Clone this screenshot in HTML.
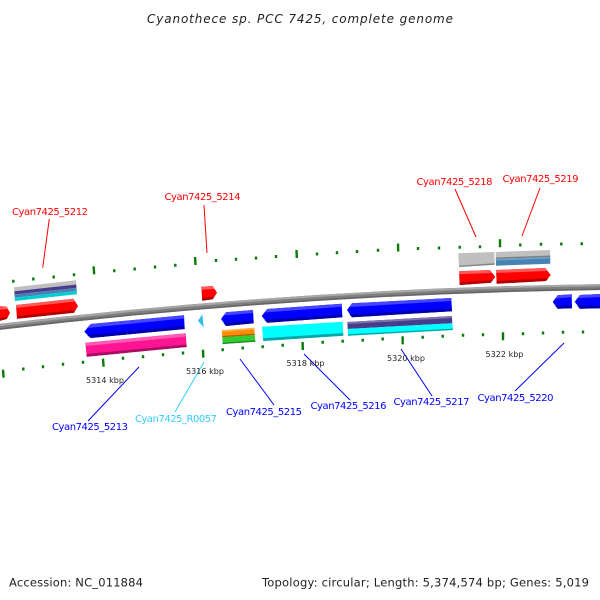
<!DOCTYPE html>
<html><head><meta charset="utf-8"><title>Cyanothece sp. PCC 7425</title>
<style>html,body{margin:0;padding:0;background:#fff}svg{display:block}text{font-family:"DejaVu Sans","Liberation Sans",sans-serif}</style></head>
<body>
<svg xmlns="http://www.w3.org/2000/svg" width="600" height="600" viewBox="0 0 600 600">
<rect width="600" height="600" fill="#fff"/>
<!-- backbone -->
<path d="M-5 327.4Q300 291 605 287" fill="none" stroke="#808080" stroke-width="6"/>
<path d="M-5 325.6Q300 289 605 285" fill="none" stroke="#a8a8a8" stroke-width="2"/>
<path d="M-5 329.6Q300 293 605 289" fill="none" stroke="#666" stroke-width="1.5"/>
<!-- upper ticks -->
<g stroke="#0a7a0a" stroke-width="2.4" fill="none">
<path d="M13.3 279.8v3M33.3 277.5v3M53.7 275.5v3M74 273.2v3M114.3 269.2v3M134.7 267.5v3M155 265.5v3M175.3 263.8v3M216 259v3M236 257.7v3M256 256.5v3M276 255v3M317 252.5v3M337 251.2v3M357 250v3M378 248.8v3M418 247v3M439 246.5v3M459.7 245.8v3M480 245.2v3M520.3 243.5v3M541 242.8v3M561.3 242.5v3M581.7 242.2v3"/>
<path d="M93.6 266.3l.6 8M195 257l.5 8M296.5 250l.3 8M398 243.5l.2 8M500 239.3v8"/>
</g>
<!-- lower ticks -->
<g stroke="#0a7a0a" stroke-width="2.4" fill="none">
<path d="M23.3 367.5v3M43 365.2v3M63 362.8v3M83 360.8v3M123 356.8v3M143 355.2v3M163 353.2v3M183 351.5v3M222.7 348.2v3M242.7 346.5v3M262.7 345.2v3M282.7 343.8v3M322.7 340.8v3M342.7 339.8v3M362.7 338.8v3M382.7 337.5v3M422.7 335.8v3M442.7 334.8v3M463 333.8v3M483 333.2v3M523 332.2v3M543 331.5v3M563 330.8v3M583 330.5v3"/>
<path d="M3 369.7l.6 8M103 358.7l.6 8M203 349.7l.3 8M302.6 342l.2 8M402.6 336.3l.1 8M503 332.3v8"/>
</g>
<!-- red genes -->
<g>
<polygon points="0,306 6.7,306.7 10,313 6.7,319 0,320.7" fill="#f00"/>
<polygon points="0,306 6.7,306.7 8,309 0,309.5" fill="#ff5a5a"/>
<polygon points="0,318 8,316.5 6.7,319 0,320.7" fill="#b00000"/>
<polygon points="16,305 73.3,298.7 78,306 74,312.7 17,318.7" fill="#f00"/>
<polygon points="16,305 73.3,298.7 75,301.5 16,308" fill="#ff5a5a"/>
<polygon points="17,316 75.5,310 74,312.7 17,318.7" fill="#b00000"/>
<polygon points="201.3,286.7 212.7,286 217,292.7 212.7,299.3 202.3,300.7" fill="#f00"/>
<polygon points="201.3,286.7 212.7,286 214.5,289 201.5,289.7" fill="#ff5a5a"/>
<polygon points="202,298 214.5,296.5 212.7,299.3 202.3,300.7" fill="#b00000"/>
<polygon points="459,271.3 490,270 495.3,277 490.7,282.7 459.7,285" fill="#f00"/>
<polygon points="459,271.3 490,270 492.2,273 459,274.3" fill="#ff5a5a"/>
<polygon points="459.6,282.3 493,280 490.7,282.7 459.7,285" fill="#b00000"/>
<polygon points="496,270 545.3,268 550.7,275 546,281 496.7,283.7" fill="#f00"/>
<polygon points="496,270 545.3,268 547.6,271 496,273" fill="#ff5a5a"/>
<polygon points="496.6,281 548.3,278.3 546,281 496.7,283.7" fill="#b00000"/>
</g>
<!-- blue genes -->
<g>
<polygon points="84.3,331.7 90.7,324 184,315.3 184.7,329 90.7,338" fill="#00f"/>
<polygon points="87,328 90.7,324 184,315.3 184.2,318.5" fill="#4646ff"/>
<polygon points="87,335 184.5,326 184.7,329 90.7,338" fill="#0000aa"/>
<polygon points="198,321 202.3,314.3 203.7,327.3" fill="#33bbee"/>
<polygon points="221,319 226,312.3 253,310 253.7,323.3 226,326" fill="#00f"/>
<polygon points="223.5,315.5 226,312.3 253,310 253.1,313" fill="#4646ff"/>
<polygon points="223.5,323 253.5,320.5 253.7,323.3 226,326" fill="#0000aa"/>
<polygon points="261.7,316 267.3,309 341.7,303.7 342.3,317.3 267.3,322.7" fill="#00f"/>
<polygon points="264.3,312.5 267.3,309 341.7,303.7 341.9,306.8" fill="#4646ff"/>
<polygon points="264.5,320 342.2,314.5 342.3,317.3 267.3,322.7" fill="#0000aa"/>
<polygon points="347,310 352,303.3 451.3,298 452,311.3 352,317.3" fill="#00f"/>
<polygon points="349.5,307 352,303.3 451.3,298 451.5,301" fill="#4646ff"/>
<polygon points="349.5,314.5 451.9,308.5 452,311.3 352,317.3" fill="#0000aa"/>
<polygon points="552.7,302 557.7,295.3 571.7,294.3 572,308.3 557.7,308.7" fill="#00f"/>
<polygon points="555.2,298.5 557.7,295.3 571.7,294.3 571.8,297.3" fill="#4646ff"/>
<polygon points="555.2,305.8 572,305.5 572,308.3 557.7,308.7" fill="#0000aa"/>
<polygon points="574.7,301.7 580,295 600,294 600,308.3 580,308.7" fill="#00f"/>
<polygon points="577.3,298.3 580,295 600,294 600,297" fill="#4646ff"/>
<polygon points="577.3,305.8 600,305.5 600,308.3 580,308.7" fill="#0000aa"/>
</g>
<!-- pink -->
<polygon points="85.3,342.7 185.7,333.3 186.7,347 86.7,356.7" fill="#ff1493"/>
<polygon points="85.3,342.7 185.7,333.3 186,336.5 85.5,346" fill="#ff5ab4"/>
<polygon points="86.5,354 186.5,344.5 186.7,347 86.7,356.7" fill="#a80e62"/>
<!-- orange / green -->
<polygon points="221.7,330.3 254.3,327.7 254.7,335 222.3,337.3" fill="#ff8c00"/>
<polygon points="221.7,330.3 254.3,327.7 254.4,329.5 221.8,332" fill="#ffb04a"/>
<polygon points="222.2,336 254.6,333.7 254.7,335 222.3,337.3" fill="#a85c00"/>
<polygon points="222.3,337.3 254.7,335 255.3,341.7 222.7,344" fill="#32cd32"/>
<polygon points="222.6,342.7 255.2,340.4 255.3,341.7 222.7,344" fill="#1f8a1f"/>
<!-- cyan -->
<polygon points="262,326.7 342.7,321.7 343.3,335.7 263.3,341" fill="#0ff"/>
<polygon points="263.2,338.3 343.2,333 343.3,335.7 263.3,341" fill="#00a8a8"/>
<!-- 5217 stack -->
<polygon points="347.3,322 452,316 452.3,323.3 347.7,329" fill="#483d8b"/>
<polygon points="347.3,322 452,316 452.1,318 347.4,324" fill="#7c73b0"/>
<polygon points="347.7,329 452.3,323.3 453,330 348,335.7" fill="#0ff"/>
<polygon points="347.9,334.3 452.9,328.6 453,330 348,335.7" fill="#00a8a8"/>
<!-- 5212 stack -->
<polygon points="14,287.3 76,280.3 76.3,284.5 14.3,291.3" fill="#c0c0c0"/>
<polygon points="14.3,291.3 76.3,284.5 76.5,288 14.5,294.5" fill="#483d8b"/>
<polygon points="14.5,294.5 76.5,288 76.7,291 14.7,297.7" fill="#4682b4"/>
<polygon points="14.7,297.7 76.7,291 77,294.3 15,301" fill="#00ced1"/>
<!-- 5218 grey -->
<polygon points="458.3,253.3 494.3,252 494.7,264.7 459,267" fill="#c0c0c0"/>
<polygon points="458.9,265.6 494.6,263.3 494.7,264.7 459,267" fill="#858585"/>
<!-- 5219 stack -->
<polygon points="495.7,252 550,250 550.2,257 495.9,259" fill="#c0c0c0"/>
<polygon points="495.9,257.5 550.2,255.5 550.2,257 495.9,259" fill="#808080"/>
<polygon points="495.9,259 550.2,257 550.3,263.7 496,265.7" fill="#4682b4"/>
<polygon points="495.9,259 550.2,257 550.2,258.6 495.9,260.6" fill="#70a0c8"/>
<!-- connectors -->
<g fill="none" stroke-width="1">
<path stroke="#f00" d="M49.3 219L42.7 267.7M204 205L207 253M455 189L476 237M540 188L522 236"/>
<path stroke="#00f" d="M139 367L88 421M240 359L274 405M304 354L350 400M401 349L432 396M564 343L515 391"/>
<path stroke="#33ccff" d="M204 362L175 412"/>
</g>
<!-- gene labels -->
<g font-size="10">
<g fill="#f00">
<text x="12" y="215" textLength="76">Cyan7425_5212</text>
<text x="164.500" y="200" textLength="76">Cyan7425_5214</text>
<text x="416.500" y="185" textLength="76">Cyan7425_5218</text>
<text x="502.500" y="182" textLength="76">Cyan7425_5219</text>
</g>
<g fill="#00f">
<text x="52" y="430" textLength="76">Cyan7425_5213</text>
<text x="226" y="415" textLength="76">Cyan7425_5215</text>
<text x="310.500" y="409" textLength="76">Cyan7425_5216</text>
<text x="393.500" y="405" textLength="76">Cyan7425_5217</text>
<text x="477.500" y="401" textLength="76">Cyan7425_5220</text>
</g>
<text x="135" y="422" textLength="82" fill="#33ccff">Cyan7425_R0057</text>
</g>
<!-- kbp labels -->
<g font-size="8" fill="#222">
<text x="86" y="383" textLength="38">5314 kbp</text>
<text x="186" y="374" textLength="38">5316 kbp</text>
<text x="286.500" y="366" textLength="38">5318 kbp</text>
<text x="387" y="361" textLength="38">5320 kbp</text>
<text x="485.500" y="357" textLength="38">5322 kbp</text>
</g>
<!-- title and footer -->
<text x="147" y="23" font-size="12" font-style="italic" fill="#222" textLength="306">Cyanothece sp. PCC 7425, complete genome</text>
<text x="9" y="586.500" font-size="11.500" fill="#222" textLength="134">Accession: NC_011884</text>
<text x="262" y="586.500" font-size="11.500" fill="#222" textLength="327">Topology: circular; Length: 5,374,574 bp; Genes: 5,019</text>
</svg>
</body></html>
